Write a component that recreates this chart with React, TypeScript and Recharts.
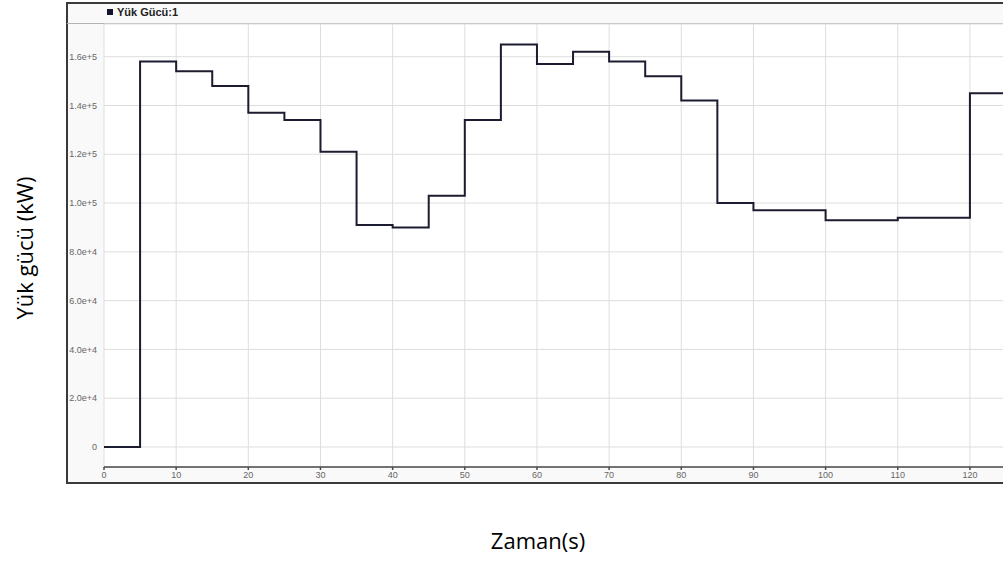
import { LineChart, Line, XAxis, YAxis, CartesianGrid } from "recharts";

// load profile, one level per 5 s step (value holds until the next step)
const times = [0, 5, 10, 15, 20, 25, 30, 35, 40, 45, 50, 55, 60, 65, 70, 75, 80, 85, 90, 95, 100, 105, 110, 115, 120, 125];
const loadPower = [
  0, 158000, 154000, 148000, 137000, 134000, 121000, 91000, 90000, 103000, 134000, 165000, 157000,
  162000, 158000, 152000, 142000, 100000, 97000, 97000, 93000, 93000, 94000, 94000, 145000, 145000,
];
const xTicks = [0, 10, 20, 30, 40, 50, 60, 70, 80, 90, 100, 110, 120];
const yTicks = [0, 20000, 40000, 60000, 80000, 100000, 120000, 140000, 160000];

const seriesName = "Yük Gücü:1";
const yTitle = "Yük gücü (kW)";
const xTitle = "Zaman(s)";

const data = times.map((t, i) => ({ t, power: loadPower[i] }));

const tickFont = { fontSize: 9, fill: "#666", fontFamily: "'Liberation Sans', Arial, sans-serif" };

const fmtY = (v: number) => (v === 0 ? "0" : v.toExponential(1));

export default function App() {
  return (
    <div
      style={{
        position: "absolute",
        left: 0,
        top: 0,
        width: 1003,
        height: 563,
        overflow: "hidden",
        background: "#fff",
      }}
    >
      {/* scope frame + header strip */}
      <div
        style={{
          position: "absolute",
          left: 66,
          top: 2,
          width: 960,
          height: 482,
          boxSizing: "border-box",
          border: "2px solid #3a3a3a",
          background: "#f9f9f9",
        }}
      />
      <div style={{ position: "absolute", left: 67, top: 23, width: 940, height: 1, background: "#b4b4b4" }} />

      <div style={{ position: "absolute", left: 0, top: 0 }}>
        <LineChart width={1010} height={563} data={data} margin={{ top: 24, right: 4, bottom: 0, left: 0 }}>
          <CartesianGrid fill="#fff" stroke="#dedede" strokeWidth={1} />
          <XAxis
            dataKey="t"
            type="number"
            domain={[0, 125]}
            ticks={xTicks}
            height={96}
            tick={tickFont}
            tickSize={3}
            tickMargin={2}
            stroke="#4a4a4a"
            strokeWidth={1.5}
            allowDataOverflow
          />
          <YAxis
            type="number"
            domain={[-8200, 173400]}
            ticks={yTicks}
            width={104}
            tick={tickFont}
            tickFormatter={fmtY}
            tickLine={false}
            axisLine={false}
            tickSize={5}
            tickMargin={2}
            allowDataOverflow
          />
          <Line
            type="stepAfter"
            dataKey="power"
            stroke="#1c1c30"
            strokeWidth={2}
            dot={false}
            isAnimationActive={false}
          />
        </LineChart>
      </div>

      {/* legend */}
      <div
        style={{
          position: "absolute",
          left: 107,
          top: 6,
          display: "flex",
          alignItems: "center",
          fontFamily: "'Liberation Sans', Arial, sans-serif",
          fontWeight: "bold",
          fontSize: 11,
          color: "#222",
        }}
      >
        <span style={{ display: "inline-block", width: 6, height: 6, background: "#14142a", marginRight: 4 }} />
        {seriesName}
      </div>

      {/* axis titles */}
      <div
        style={{
          position: "absolute",
          left: 24,
          top: 248,
          transform: "translate(-50%, -50%) rotate(-90deg)",
          whiteSpace: "nowrap",
          fontFamily: "'Open Sans', sans-serif",
          fontSize: 22,
          color: "#000",
        }}
      >
        {yTitle}
      </div>
      <div
        style={{
          position: "absolute",
          left: 538,
          top: 540,
          transform: "translate(-50%, -50%)",
          whiteSpace: "nowrap",
          fontFamily: "'Open Sans', sans-serif",
          fontSize: 22,
          color: "#000",
        }}
      >
        {xTitle}
      </div>
    </div>
  );
}
